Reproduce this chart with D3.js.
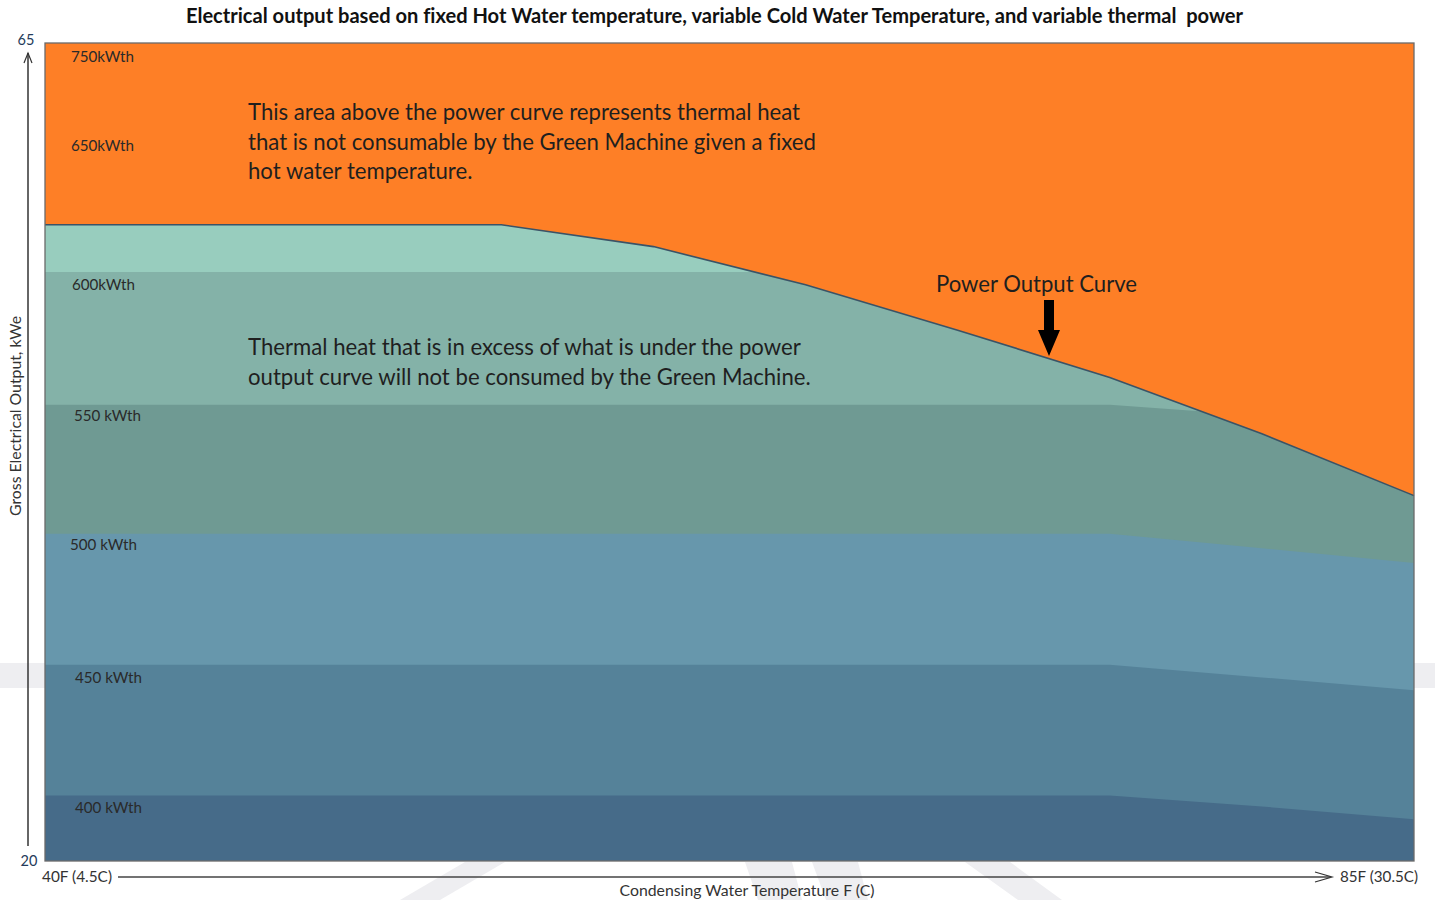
<!DOCTYPE html>
<html>
<head>
<meta charset="utf-8">
<script src="https://cdn.jsdelivr.net/npm/d3@7"></script>
<style>
  html, body { margin: 0; padding: 0; background: #fff; }
  svg { display: block; font-family: Lato, "Open Sans", sans-serif; }
  text { font-variant-ligatures: none; }
</style>
</head>
<body>
<svg id="chart" width="1435" height="900"></svg>
<script>
// ---------- data ----------
const temps = [40, 45, 50, 55, 60, 65, 70, 75, 80, 85];               // Condensing water temp, F
const powerCurve = [55.0, 55.0, 55.0, 55.0, 53.8, 51.7, 49.2, 46.6, 43.5, 40.1]; // kWe (power output curve)
const layer600 = [52.4, 52.4, 52.4, 52.4, 52.4, 52.4, 52.4, 52.4, 51.8, 51.0];
const layer550 = [45.1, 45.1, 45.1, 45.1, 45.1, 45.1, 45.1, 45.1, 44.5, 43.6];
const layer500 = [38.0, 38.0, 38.0, 38.0, 38.0, 38.0, 38.0, 38.0, 37.2, 36.4];
const layer450 = [30.8, 30.8, 30.8, 30.8, 30.8, 30.8, 30.8, 30.8, 30.1, 29.4];
const layer400 = [23.6, 23.6, 23.6, 23.6, 23.6, 23.6, 23.6, 23.6, 23.0, 22.3];
const yTicks = [20, 65];
const xTickLabels = ["40F (4.5C)", "85F (30.5C)"];
const layerLabels = [
  {text: "750kWth", v: 64.3}, {text: "650kWth", v: 59.4},
  {text: "600kWth", v: 51.75}, {text: "550 kWth", v: 44.55},
  {text: "500 kWth", v: 37.45}, {text: "450 kWth", v: 30.1}, {text: "400 kWth", v: 22.95}
];
const titleText = "Electrical output based on fixed Hot Water temperature, variable Cold Water Temperature, and variable thermal  power";
const note1 = ["This area above the power curve represents thermal heat",
               "that is not consumable by the Green Machine given a fixed",
               "hot water temperature."];
const note2 = ["Thermal heat that is in excess of what is under the power",
               "output curve will not be consumed by the Green Machine."];

// ---------- setup ----------
const svg = d3.select("#chart");
const L = 45, R = 1414, T = 43, B = 861;
const x = d3.scaleLinear().domain([40, 85]).range([L, R]);
const y = d3.scaleLinear().domain([20, 65]).range([B, T]);

function fit(sel, target) {
  const n = sel.node();
  let fs = parseFloat(sel.attr("font-size"));
  for (let i = 0; i < 3; i++) {
    const w = n.getComputedTextLength();
    if (w > 0) { fs = fs * target / w; sel.attr("font-size", fs.toFixed(2)); }
  }
  return fs;
}

// faint watermark
const wm = svg.append("g").attr("fill", "#eeeef1");
wm.append("rect").attr("x", 0).attr("y", 663).attr("width", 1435).attr("height", 25);
[[[400,900],[440,900],[505,862],[465,862]],
 [[745,862],[792,862],[802,900],[758,900]],
 [[812,862],[858,862],[868,900],[826,900]],
 [[965,862],[1010,862],[1062,900],[1018,900]]].forEach(p =>
  wm.append("polygon").attr("points", p.map(d => d.join(",")).join(" ")));

// orange background of plot
svg.append("rect").attr("x", L).attr("y", T).attr("width", R - L).attr("height", B - T).attr("fill", "#FE7F26");

const pData = temps.map((t, i) => ({t, v: powerCurve[i]}));
const area = d3.area().x(d => x(d.t)).y0(y(20)).y1(d => y(d.v)).curve(d3.curveLinear);

svg.append("clipPath").attr("id", "pc").append("path").attr("d", area(pData));

svg.append("path").attr("d", area(pData)).attr("fill", "#98CDBE");

const layers = [
  {vals: layer600, color: "#84B2A8"},
  {vals: layer550, color: "#6F9A93"},
  {vals: layer500, color: "#6797AC"},
  {vals: layer450, color: "#558299"},
  {vals: layer400, color: "#466B89"}
];
const lg = svg.append("g").attr("clip-path", "url(#pc)");
layers.forEach(l => {
  lg.append("path")
    .attr("d", area(temps.map((t, i) => ({t, v: l.vals[i]}))))
    .attr("fill", l.color);
});

// power output line
svg.append("path")
  .attr("d", d3.line().x(d => x(d.t)).y(d => y(d.v))(pData))
  .attr("fill", "none").attr("stroke", "#3B5366").attr("stroke-width", 1.6);

// plot border
svg.append("rect").attr("x", L).attr("y", T).attr("width", R - L).attr("height", B - T)
  .attr("fill", "none").attr("stroke", "#6a6a6a").attr("stroke-width", 1.3);

// layer labels
const labX = [71, 71, 72, 74, 70, 75, 75];
let labFs = null;
layerLabels.forEach((d, i) => {
  const t = svg.append("text").attr("x", labX[i])
    .attr("y", y(d.v) + 6).attr("font-size", 14).attr("fill", "#2a2a2a")
    .text(d.text);
  if (i === 0) labFs = fit(t, 63);
  else t.attr("font-size", labFs.toFixed(2));
});

// annotations
const n1 = note1.map((s, i) => svg.append("text").attr("x", 248).attr("y", 120 + i * 29.5)
  .attr("font-size", 21).attr("fill", "#1f1f1f").text(s));
const fs1 = fit(n1[1], 568);
n1.forEach(t => t.attr("font-size", fs1.toFixed(2)));
const n2 = note2.map((s, i) => svg.append("text").attr("x", 248).attr("y", 355 + i * 29.5)
  .attr("font-size", fs1.toFixed(2)).attr("fill", "#1f1f1f").text(s));
const pl = svg.append("text").attr("x", 936).attr("y", 292).attr("font-size", 21)
  .attr("fill", "#1f1f1f").text("Power Output Curve");
fit(pl, 201);

// black arrow
const ax = 1049;
svg.append("polygon")
  .attr("points", [[ax-5,300],[ax+5,300],[ax+5,330],[ax+11,330],[ax,356],[ax-11,330],[ax-5,330]].map(p => p.join(",")).join(" "))
  .attr("fill", "#000");

// title
const tt = svg.append("text").attr("x", 714.5).attr("y", 23).attr("text-anchor", "middle")
  .attr("font-size", 17).attr("font-weight", "bold").attr("fill", "#111")
  .style("white-space", "pre").text(titleText);
fit(tt, 1057);

// y axis arrow
svg.append("line").attr("x1", 28).attr("x2", 28).attr("y1", 846).attr("y2", 53)
  .attr("stroke", "#333").attr("stroke-width", 1.5);
svg.append("path").attr("d", "M24,63 L28,53 L32,63").attr("fill", "none").attr("stroke", "#333").attr("stroke-width", 1.2);

// x axis arrow
svg.append("line").attr("x1", 118).attr("x2", 1331).attr("y1", 877).attr("y2", 877)
  .attr("stroke", "#444").attr("stroke-width", 1.6);
svg.append("path").attr("d", "M1315,872 L1332,877 L1315,882").attr("fill", "none").attr("stroke", "#333").attr("stroke-width", 1.2);

// y tick labels
svg.selectAll(".yt").data(yTicks).enter().append("text")
  .attr("x", d => d === 65 ? 26 : 29).attr("y", d => y(d) + (d === 65 ? 2 : 5))
  .attr("text-anchor", "middle").attr("font-size", 14.5).attr("fill", "#243b5a").text(d => d);

// x tick labels
const xl = svg.append("text").attr("x", 42).attr("y", 882).attr("font-size", 13).attr("fill", "#333").text(xTickLabels[0]);
fit(xl, 70);
const xr = svg.append("text").attr("x", 1340).attr("y", 882).attr("font-size", 13).attr("fill", "#333").text(xTickLabels[1]);
fit(xr, 78);

// axis titles
const xt = svg.append("text").attr("x", 747).attr("y", 896).attr("text-anchor", "middle")
  .attr("font-size", 14).attr("fill", "#333").text("Condensing Water Temperature F (C)");
fit(xt, 255);
const yt = svg.append("text").attr("transform", "translate(21,416) rotate(-90)").attr("text-anchor", "middle")
  .attr("font-size", 13).attr("fill", "#333").text("Gross Electrical Output, kWe");
fit(yt, 200);
</script>
</body>
</html>
